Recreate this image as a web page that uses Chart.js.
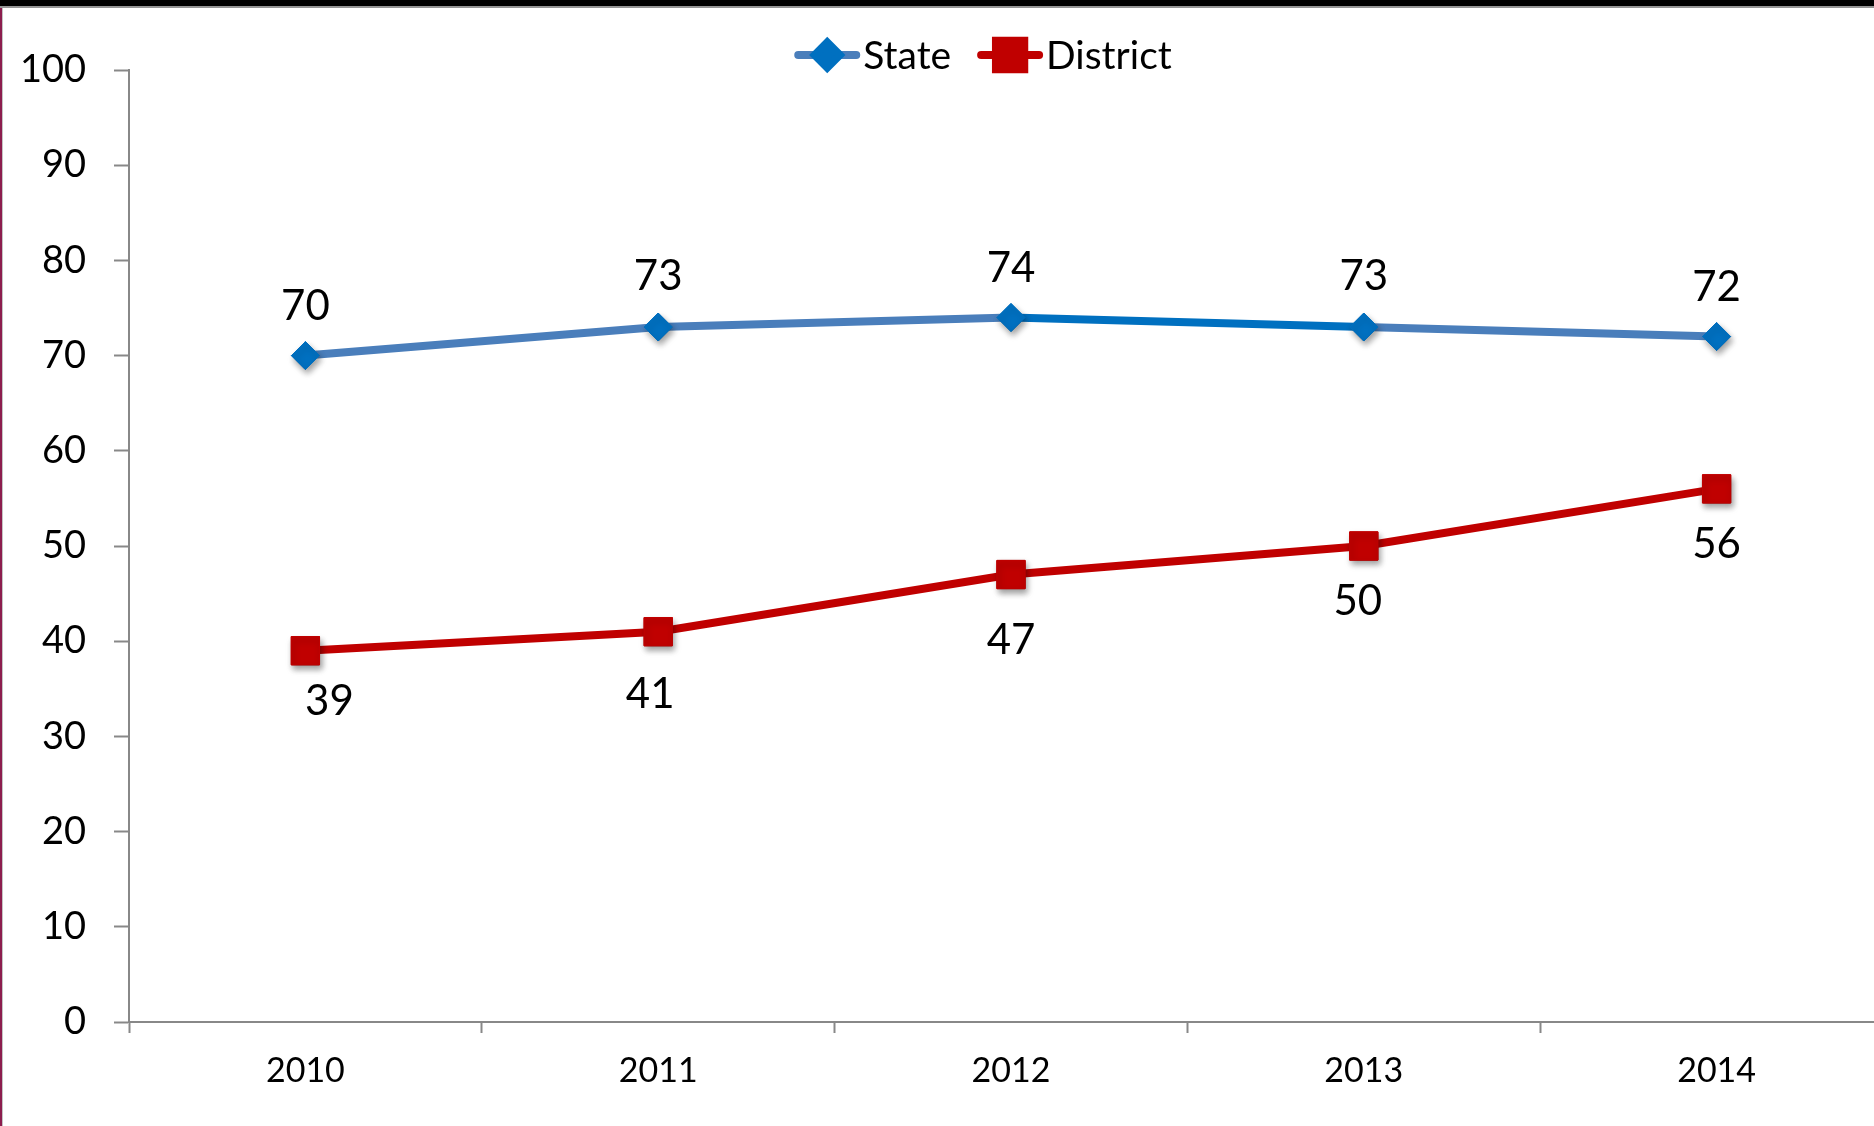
<!DOCTYPE html>
<html><head><meta charset="utf-8">
<script src="https://cdn.jsdelivr.net/npm/chart.js@4/dist/chart.umd.min.js"></script>
<style>
html,body{margin:0;padding:0;background:#fff;overflow:hidden;width:1874px;height:1126px}
#wrap{position:relative;width:1874px;height:1126px;overflow:hidden;background:#fff}
canvas{position:absolute;left:0;top:0}
.b{position:absolute}
</style></head><body>
<div id="wrap">
<canvas id="c" width="1914" height="1126" style="width:1914px;height:1126px"></canvas>
<div class="b" style="left:0;top:0;width:1874px;height:6px;background:#000"></div>
<div class="b" style="left:0;top:6px;width:1874px;height:2px;background:#959595"></div>
<div class="b" style="left:0;top:8px;width:2px;height:1118px;background:#8c1d4e"></div>
<div class="b" style="left:2px;top:8px;width:1px;height:1118px;background:#c4c4c4"></div>
</div>
<script>
// ---- data ----
const years = ['2010', '2011', '2012', '2013', '2014'];
const stateValues = [70, 73, 74, 73, 72];
const districtValues = [39, 41, 47, 50, 56];
const seriesNames = ['State', 'District'];

// ---- styling ----
const FONT = 'Lato, "Open Sans", sans-serif';
const AXIS_GRAY = '#888888';
const STATE_LINE = '#4A7EBB';
const STATE_DARK = '#0070C0';
const DISTRICT_RED = '#C00000';
// label offsets (px) relative to each point
const stateLabelNudge = [[0,-51],[0,-52],[0,-51],[0,-52],[0,-51]];
const districtLabelNudge = [[24,49],[-8,61],[0,64],[-6,54],[0,54]];

const dataLabelPlugin = {
  id: 'dataLabels',
  afterDatasetsDraw(chart) {
    const ctx = chart.ctx;
    const size = 42;
    ctx.save();
    ctx.font = size + 'px ' + FONT;
    ctx.fillStyle = '#000';
    ctx.textAlign = 'center';
    ctx.textBaseline = 'alphabetic';
    chart.data.datasets.forEach((ds, di) => {
      const meta = chart.getDatasetMeta(di);
      meta.data.forEach((pt, i) => {
        const n = ds.labelNudge[i];
        ctx.fillText(String(ds.data[i]), pt.x + n[0], pt.y + n[1] + size * 0.36);
      });
    });
    ctx.restore();
  }
};

const markerShadowPlugin = {
  id: 'markerShadow',
  afterDatasetDraw(chart, args) {
    const ctx = chart.ctx;
    ctx.save();
    ctx.shadowColor = 'rgba(0,0,0,0.38)';
    ctx.shadowBlur = 6;
    ctx.shadowOffsetX = 2;
    ctx.shadowOffsetY = 4;
    args.meta.data.forEach(el => el.draw(ctx, chart.chartArea));
    ctx.restore();
  }
};

const legendPlugin = {
  id: 'excelLegend',
  afterDraw(chart) {
    const ctx = chart.ctx;
    const size = 39;
    ctx.save();
    ctx.font = size + 'px ' + FONT;
    const lineW = 66, gap = 3, itemGap = 26;
    const items = chart.data.datasets.map(ds => ({ds, tw: ctx.measureText(ds.label).width}));
    const total = items.reduce((s, it) => s + lineW + gap + it.tw, 0) + itemGap * (items.length - 1);
    let x = 983 - total / 2;
    const cy = 55;
    items.forEach(it => {
      const ds = it.ds;
      ctx.strokeStyle = ds.legendLineColor;
      ctx.lineWidth = 8;
      ctx.lineCap = 'round';
      ctx.beginPath();
      ctx.moveTo(x + 4, cy);
      ctx.lineTo(x + lineW - 4, cy);
      ctx.stroke();
      ctx.fillStyle = ds.pointBackgroundColor;
      ctx.strokeStyle = ds.pointBorderColor;
      Chart.helpers.drawPoint(ctx, {
        pointStyle: ds.pointStyle,
        radius: ds.legendRadius,
        borderWidth: 1,
        rotation: 0
      }, x + lineW / 2, cy);
      ctx.fillStyle = '#000';
      ctx.textAlign = 'left';
      ctx.textBaseline = 'alphabetic';
      ctx.fillText(ds.label, x + lineW + gap, cy + size * 0.36);
      x += lineW + gap + it.tw + itemGap;
    });
    ctx.restore();
  }
};

function build() {
  new Chart(document.getElementById('c'), {
    type: 'line',
    data: {
      labels: years,
      datasets: [
        {
          label: seriesNames[0],
          data: stateValues,
          borderColor: STATE_LINE,
          borderWidth: 8,
          tension: 0,
          segment: {
            borderColor: c => c.p0DataIndex === 2 ? STATE_DARK : STATE_LINE
          },
          pointStyle: 'rectRot',
          pointRadius: 14,
          pointHoverRadius: 14,
          pointBackgroundColor: STATE_DARK,
          pointBorderColor: STATE_DARK,
          pointBorderWidth: 1,
          legendLineColor: STATE_LINE,
          legendRadius: 12.5,
          labelNudge: stateLabelNudge,
          fill: false
        },
        {
          label: seriesNames[1],
          data: districtValues,
          borderColor: DISTRICT_RED,
          borderWidth: 8,
          tension: 0,
          pointStyle: 'rect',
          pointRadius: 20,
          pointHoverRadius: 20,
          pointBackgroundColor: DISTRICT_RED,
          pointBorderColor: DISTRICT_RED,
          pointBorderWidth: 1,
          legendLineColor: DISTRICT_RED,
          legendRadius: 20,
          labelNudge: districtLabelNudge,
          fill: false
        }
      ]
    },
    options: {
      responsive: false,
      animation: false,
      events: [],
      layout: { padding: { left: 0, top: 70, right: 6, bottom: 0 } },
      plugins: {
        legend: { display: false },
        tooltip: { enabled: false },
        title: { display: false }
      },
      scales: {
        x: {
          type: 'category',
          offset: true,
          grid: {
            display: true,
            offset: true,
            drawOnChartArea: false,
            drawTicks: true,
            tickLength: 11,
            tickWidth: 2,
            tickColor: AXIS_GRAY
          },
          border: { display: true, color: AXIS_GRAY, width: 2 },
          ticks: {
            color: '#000',
            font: { family: FONT, size: 34 },
            padding: 18,
            maxRotation: 0,
            autoSkip: false
          },
          afterFit(s) { s.height = 104; }
        },
        y: {
          min: 0,
          max: 100,
          grid: {
            display: true,
            drawOnChartArea: false,
            drawTicks: true,
            tickLength: 15,
            tickWidth: 2,
            tickColor: AXIS_GRAY
          },
          border: { display: true, color: AXIS_GRAY, width: 2 },
          ticks: {
            stepSize: 10,
            color: '#000',
            font: { family: FONT, size: 38 },
            padding: 28
          },
          afterFit(s) { s.width = 129; }
        }
      }
    },
    plugins: [markerShadowPlugin, dataLabelPlugin, legendPlugin]
  });
}

if (document.fonts && document.fonts.load) {
  Promise.all([document.fonts.load('38px Lato'), document.fonts.load('42px Lato')]).then(build, build);
} else { build(); }
</script>
</body></html>
